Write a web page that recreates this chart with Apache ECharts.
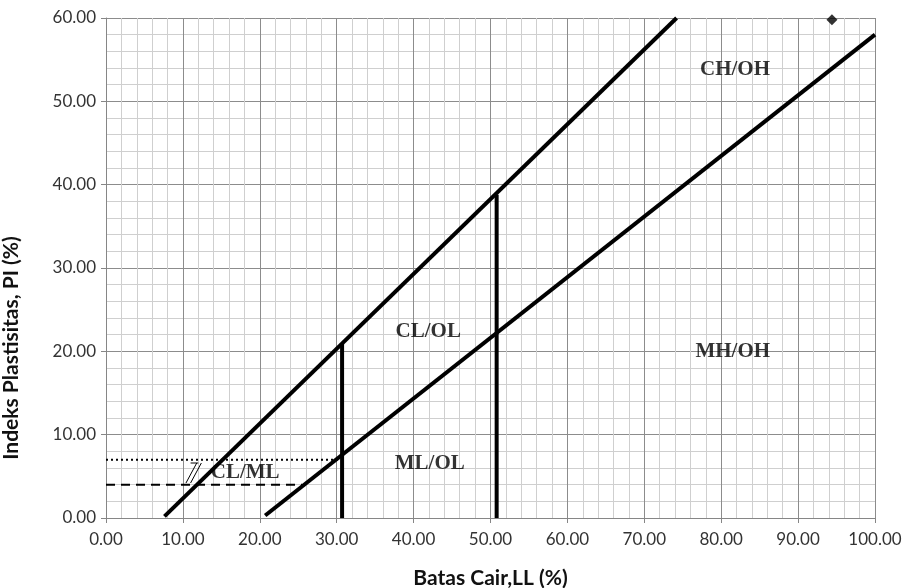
<!DOCTYPE html>
<html>
<head>
<meta charset="utf-8">
<script src="https://cdn.jsdelivr.net/npm/echarts@6/dist/echarts.min.js"></script>
<style>
  html, body { margin: 0; padding: 0; background: #fff; }
  #chart { width: 904px; height: 588px; }
</style>
</head>
<body>
<div id="chart"></div>
<script>
// tick labels
var xTicks = [0, 10, 20, 30, 40, 50, 60, 70, 80, 90, 100];
var yTicks = [0, 10, 20, 30, 40, 50, 60];

// boundary lines of the plasticity chart (LL, PI)
var uLine = [[7.6, 0.2], [74.2, 60]];
var aLine = [[20.7, 0.3], [100, 58]];
var ll30Line = [[30.7, 0], [30.7, 20.9]];
var ll50Line = [[50.8, 0], [50.8, 38.8]];
var pi7Line = [[0, 7], [30.7, 7]];
var pi4Line = [[0, 4], [25.5, 4]];
var hatch1 = [[10.4, 4.2], [11.8, 6.6]];
var hatch2 = [[11.0, 4.2], [12.4, 6.6]];
var hatchTop = [[11.0, 6.6], [12.0, 6.6]];

// soil sample
var sample = [[94.4, 59.8]];

// zone names
var zoneNames = ['CH/OH', 'CL/OL', 'MH/OH', 'ML/OL', 'CL/ML'];
var zoneLL = [81.8, 41.9, 81.5, 42.1, 18.1];
var zonePI = [53.8, 22.4, 20.0, 6.5, 5.5];

var dom = document.getElementById('chart');
var myChart = echarts.init(dom);

function lineSeries(name, data, width, type) {
    return {
        name: name,
        type: 'line',
        data: data,
        symbol: 'none',
        silent: true,
        lineStyle: {color: '#000', width: width, type: type || 'solid', cap: 'butt'}
    };
}

var zoneData = [];
for (var i = 0; i < zoneNames.length; i++) {
    zoneData.push({value: [zoneLL[i], zonePI[i]], name: zoneNames[i]});
}

var option = {
    animation: false,
    grid: {left: 106, right: 29, top: 18, bottom: 70, outerBoundsMode: 'none'},
    xAxis: {
        type: 'value',
        min: 0,
        max: 100,
        interval: 10,
        name: 'Batas Cair,LL (%)',
        nameLocation: 'middle',
        nameGap: 50,
        nameTextStyle: {fontFamily: 'Lato', fontWeight: 'bold', fontSize: 21, color: '#111'},
        axisLine: {show: true, lineStyle: {color: '#868686'}},
        axisTick: {show: true, length: 5, lineStyle: {color: '#868686'}},
        axisLabel: {
            fontFamily: 'Lato', fontSize: 17, color: '#333', margin: 13,
            formatter: function (v) { return v.toFixed(2); }
        },
        splitLine: {show: true, lineStyle: {color: '#8c8c8c', width: 1}},
        minorTick: {show: false, splitNumber: 5},
        minorSplitLine: {show: true, lineStyle: {color: '#cfcfcf', width: 1}}
    },
    yAxis: {
        type: 'value',
        min: 0,
        max: 60,
        interval: 10,
        name: 'Indeks Plastisitas, PI (%)',
        nameLocation: 'middle',
        nameGap: 84,
        // shifted below the middle of the axis, as in the original
        nameTextStyle: {fontFamily: 'Lato', fontWeight: 'bold', fontSize: 21, color: '#111', padding: [0, 160, 0, 0]},
        axisLine: {show: true, lineStyle: {color: '#868686'}},
        axisTick: {show: true, length: 5, lineStyle: {color: '#868686'}},
        axisLabel: {
            fontFamily: 'Lato', fontSize: 17, color: '#333', margin: 10,
            formatter: function (v) { return v.toFixed(2); }
        },
        splitLine: {show: true, lineStyle: {color: '#8c8c8c', width: 1}},
        minorTick: {show: false, splitNumber: 5},
        minorSplitLine: {show: true, lineStyle: {color: '#cfcfcf', width: 1}}
    },
    series: [
        lineSeries('U', uLine, 4),
        lineSeries('A', aLine, 4),
        lineSeries('LL30', ll30Line, 4),
        lineSeries('LL50', ll50Line, 4),
        lineSeries('PI7', pi7Line, 2, [2, 3]),
        lineSeries('PI4', pi4Line, 2, [9, 6]),
        lineSeries('h1', hatch1, 1),
        lineSeries('h2', hatch2, 1),
        lineSeries('h3', hatchTop, 1),
        {
            name: 'Sampel',
            type: 'scatter',
            data: sample,
            symbol: 'diamond',
            symbolSize: 11,
            itemStyle: {color: '#000'}
        },
        {
            name: 'Zona',
            type: 'scatter',
            data: zoneData,
            symbolSize: 0,
            silent: true,
            label: {
                show: true,
                position: 'inside',
                formatter: '{b}',
                fontFamily: 'Liberation Serif',
                fontWeight: 'bold',
                fontSize: 21,
                color: '#000'
            }
        }
    ]
};

if (option && typeof option == "object") {
    myChart.setOption(option, true);
}
</script>
</body>
</html>
